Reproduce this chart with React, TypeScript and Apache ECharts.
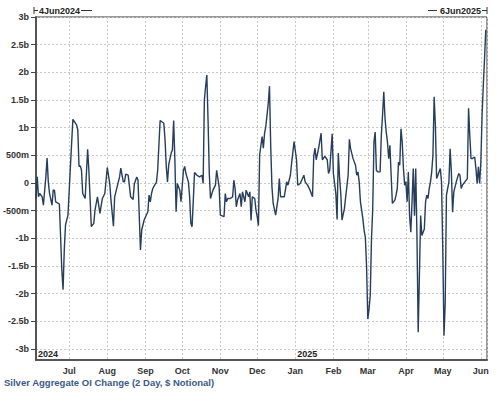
import React, { useEffect, useRef } from 'react';
import * as echarts from 'echarts';

const dates = [
  '2024-06-04','2024-06-05','2024-06-06','2024-06-07','2024-06-09','2024-06-10','2024-06-12','2024-06-13','2024-06-14','2024-06-15',
  '2024-06-17','2024-06-18','2024-06-19','2024-06-20','2024-06-23','2024-06-25','2024-06-26','2024-06-27','2024-06-28','2024-06-30',
  '2024-07-02','2024-07-04','2024-07-07','2024-07-08','2024-07-09','2024-07-10','2024-07-11','2024-07-12','2024-07-14','2024-07-16',
  '2024-07-17','2024-07-19','2024-07-21','2024-07-22','2024-07-24','2024-07-26','2024-07-28','2024-07-30','2024-08-01','2024-08-03',
  '2024-08-04','2024-08-06','2024-08-07','2024-08-09','2024-08-11','2024-08-12','2024-08-14','2024-08-15','2024-08-16','2024-08-18',
  '2024-08-20','2024-08-22','2024-08-23','2024-08-25','2024-08-26','2024-08-28','2024-08-29','2024-08-31','2024-09-03','2024-09-04',
  '2024-09-05','2024-09-06','2024-09-07','2024-09-09','2024-09-10','2024-09-11','2024-09-13','2024-09-16','2024-09-17','2024-09-18',
  '2024-09-19','2024-09-20','2024-09-22','2024-09-23','2024-09-24','2024-09-25','2024-09-26','2024-09-27','2024-09-29','2024-09-30',
  '2024-10-02','2024-10-03','2024-10-04','2024-10-06','2024-10-07','2024-10-08','2024-10-09','2024-10-10','2024-10-11','2024-10-13',
  '2024-10-15','2024-10-17','2024-10-18','2024-10-19','2024-10-20','2024-10-21','2024-10-22','2024-10-23','2024-10-24','2024-10-26',
  '2024-10-28','2024-10-29','2024-10-31','2024-11-01','2024-11-04','2024-11-05','2024-11-06','2024-11-07','2024-11-09','2024-11-11',
  '2024-11-12','2024-11-13','2024-11-14','2024-11-15','2024-11-17','2024-11-18','2024-11-19','2024-11-21','2024-11-22','2024-11-24',
  '2024-11-25','2024-11-26','2024-11-27','2024-11-29','2024-11-30','2024-12-01','2024-12-02','2024-12-03','2024-12-05','2024-12-06',
  '2024-12-07','2024-12-08','2024-12-10','2024-12-11','2024-12-12','2024-12-13','2024-12-14','2024-12-16','2024-12-18','2024-12-19',
  '2024-12-20','2024-12-22','2024-12-23','2024-12-25','2024-12-26','2024-12-28','2024-12-29','2024-12-31','2025-01-02','2025-01-03',
  '2025-01-05','2025-01-08','2025-01-09','2025-01-11','2025-01-13','2025-01-15','2025-01-16','2025-01-17','2025-01-18','2025-01-20',
  '2025-01-22','2025-01-23','2025-01-25','2025-01-27','2025-01-28','2025-01-29','2025-01-31','2025-02-01','2025-02-03','2025-02-04',
  '2025-02-05','2025-02-06','2025-02-07','2025-02-08','2025-02-10','2025-02-11','2025-02-13','2025-02-14','2025-02-15','2025-02-17',
  '2025-02-19','2025-02-20','2025-02-21','2025-02-22','2025-02-23','2025-02-25','2025-02-26','2025-02-27','2025-02-28','2025-03-01',
  '2025-03-02','2025-03-03','2025-03-04','2025-03-05','2025-03-06','2025-03-07','2025-03-08','2025-03-09','2025-03-11','2025-03-12',
  '2025-03-13','2025-03-14','2025-03-15','2025-03-16','2025-03-17','2025-03-18','2025-03-19','2025-03-20','2025-03-21','2025-03-23',
  '2025-03-24','2025-03-25','2025-03-26','2025-03-27','2025-03-28','2025-03-29','2025-03-30','2025-03-31','2025-04-01','2025-04-02',
  '2025-04-03','2025-04-04','2025-04-05','2025-04-06','2025-04-07','2025-04-08','2025-04-09','2025-04-10','2025-04-11','2025-04-12',
  '2025-04-13','2025-04-14','2025-04-15','2025-04-16','2025-04-17','2025-04-18','2025-04-19','2025-04-20','2025-04-21','2025-04-22',
  '2025-04-23','2025-04-24','2025-04-25','2025-04-26','2025-04-27','2025-04-29','2025-04-30','2025-05-01','2025-05-02','2025-05-03',
  '2025-05-04','2025-05-05','2025-05-06','2025-05-07','2025-05-08','2025-05-09','2025-05-10','2025-05-12','2025-05-14','2025-05-15',
  '2025-05-16','2025-05-17','2025-05-19','2025-05-21','2025-05-22','2025-05-23','2025-05-24','2025-05-25','2025-05-27','2025-05-28',
  '2025-05-29','2025-05-30','2025-05-31','2025-06-01','2025-06-02','2025-06-03','2025-06-04','2025-06-05',
];

// OI change, billions of dollars
const values = [
  -0.28, 0.11, -0.25, -0.19, -0.25, -0.40, 0.11, 0.45, 0.02, -0.19,
  -0.40, -0.13, -0.13, -0.34, -0.38, -1.57, -1.93, -1.21, -0.76, -0.58,
  0.30, 1.15, 1.05, 0.96, 0.30, 0.31, 0.23, -0.19, -0.28, 0.61,
  0.23, -0.79, -0.73, -0.49, -0.25, -0.55, -0.28, -0.19, 0.28, -0.01,
  -0.31, -0.78, -0.25, -0.07, 0.11, 0.27, 0.02, 0.02, 0.16, 0.14,
  -0.25, -0.30, -0.02, 0.11, 0.05, -1.21, -0.85, -0.67, -0.52, -0.22,
  -0.34, -0.19, -0.10, -0.02, 0.01, 0.23, 1.13, 1.08, 0.78, 0.30,
  0.02, 0.33, 0.54, 0.60, 1.13, 0.42, -0.52, -0.01, -0.13, -0.34,
  0.23, 0.30, 0.17, 0.02, -0.25, -0.73, -0.79, -0.31, 0.19, 0.14,
  0.11, 0.14, -0.01, 1.50, 1.74, 1.95, 1.14, 0.17, -0.28, -0.13,
  -0.04, 0.23, -0.07, -0.58, -0.61, -0.19, -0.34, -0.28, -0.28, -0.25,
  0.05, -0.10, -0.43, -0.31, -0.19, -0.43, -0.16, -0.34, -0.13, -0.25,
  -0.16, -0.68, -0.25, -0.28, -0.49, -0.61, -0.77, 0.51, 0.84, 0.63,
  0.90, 1.02, 1.44, 1.75, 0.66, -0.07, -0.37, -0.58, -0.28, 0.08,
  -0.25, -0.25, -0.25, 0.02, -0.04, 0.14, 0.36, 0.75, 0.42, -0.04,
  -0.01, 0.14, 0.02, -0.04, -0.13, -0.25, 0.48, 0.63, 0.42, 0.63,
  0.90, 0.42, 0.48, 0.42, 0.17, 0.23, 0.89, 0.17, -0.19, -0.66,
  0.54, 0.11, -0.19, -0.67, -0.46, -0.25, 0.14, 0.79, 0.62, 0.44,
  0.32, 0.14, 0.20, 0.02, -0.34, -0.65, -0.86, -0.98, -1.51, -2.46,
  -2.28, -2.03, -1.01, -0.47, 0.74, 0.92, 0.23, 0.20, 0.20, 0.86,
  1.23, 1.65, 1.17, 0.92, 0.74, 0.44, 0.68, 0.14, -0.37, -0.31,
  -0.22, -0.10, 0.38, 0.32, 0.98, 0.74, 0.26, -0.04, 0.02, -0.34,
  0.20, -0.59, -0.89, -0.34, 0.26, -0.59, 0.26, -0.95, -2.70, -1.67,
  -0.59, -0.95, -0.89, -0.83, -0.34, -0.22, -0.28, -0.10, 0.02, 0.20,
  0.50, 1.56, 1.04, 0.08, 0.14, 0.26, 0.02, -1.19, -2.76, -2.16,
  -0.22, -0.10, 0.02, 0.62, 0.20, -0.53, -0.16, 0.02, 0.17, 0.14,
  -0.10, -0.04, 0.02, 0.08, 1.35, 0.86, 0.44, 0.44, 0.47, 0.26,
  -0.01, 0.29, -0.01, 0.38, 1.23, 1.77, 2.25, 2.77,
];

const monthNames = ['Jan', 'Feb', 'Mar', 'Apr', 'May', 'Jun', 'Jul', 'Aug', 'Sep', 'Oct', 'Nov', 'Dec'];
const axisStart = '2024-06-04';
const axisEnd = '2025-06-06';
const startLabel = '4Jun2024';
const endLabel = '6Jun2025';
const yearLabels = [
  { text: '2024', date: '2024-06-04' },
  { text: '2025', date: '2025-01-01' },
];
const chartTitle = 'Silver Aggregate OI Change (2 Day, $ Notional)';

const fmtY = (v: number) => {
  if (Math.abs(v) < 1e-9) return '0';
  if (Math.abs(v) >= 1) return `${+v.toFixed(1)}b`;
  return `${Math.round(v * 1000)}m`;
};

export default function App() {
  const ref = useRef<HTMLDivElement>(null);
  useEffect(() => {
    const chart = echarts.init(ref.current!, null, { renderer: 'svg' });
    const font = 'Arial, "Liberation Sans", sans-serif';
    chart.setOption({
      animation: false,
      backgroundColor: '#ffffff',
      grid: { left: 34, right: 13, top: 17, bottom: 33, show: true, borderColor: '#333', borderWidth: 1 },
      xAxis: {
        type: 'time',
        min: axisStart,
        max: axisEnd,
        splitNumber: 12,
        axisLine: { show: true, onZero: false, lineStyle: { color: '#555', width: 2 } },
        axisTick: { show: false },
        axisLabel: {
          formatter: (v: number) => monthNames[new Date(v).getMonth()],
          color: '#333',
          fontWeight: 'bold',
          fontSize: 9,
          fontFamily: font,
          margin: 6,
          hideOverlap: false,
        },
        splitLine: { show: true, lineStyle: { color: '#c8c8c8', type: [2, 2], width: 1 } },
      },
      yAxis: {
        type: 'value',
        min: -3.2,
        max: 3,
        splitNumber: 12,
        axisLine: { show: true, onZero: false, lineStyle: { color: '#555', width: 2 } },
        axisTick: { show: true, length: 5, lineStyle: { color: '#444' } },
        axisLabel: {
          formatter: fmtY,
          showMinLabel: false,
          color: '#333',
          fontWeight: 'bold',
          fontSize: 9,
          fontFamily: font,
          margin: 7,
        },
        splitLine: { show: true, lineStyle: { color: '#c8c8c8', type: [2, 2], width: 1 } },
      },
      series: [
        {
          type: 'line',
          data: dates.map((d, i) => [d, values[i]]),
          symbol: 'none',
          lineStyle: { color: '#253d5f', width: 1.4 },
        },
      ],
    });

    const yBottom = chart.convertToPixel({ yAxisIndex: 0 }, -3.2) as number;
    const yearTexts = yearLabels.map((yl) => ({
      type: 'text',
      x: (chart.convertToPixel({ xAxisIndex: 0 }, yl.date) as number) + 2,
      y: yBottom - 6,
      style: { text: yl.text, fill: '#222', font: `bold 9px ${font}`, textVerticalAlign: 'middle' },
    }));

    chart.setOption({
      graphic: [
        ...yearTexts,
        { type: 'line', shape: { x1: 34, y1: 7, x2: 34, y2: 14 }, style: { stroke: '#333', lineWidth: 1 } },
        { type: 'line', shape: { x1: 34, y1: 10.5, x2: 38, y2: 10.5 }, style: { stroke: '#333', lineWidth: 1 } },
        { type: 'text', x: 39, y: 10.5, style: { text: startLabel, fill: '#222', font: `bold 9px ${font}`, textVerticalAlign: 'middle' } },
        { type: 'line', shape: { x1: 81, y1: 10.5, x2: 92, y2: 10.5 }, style: { stroke: '#333', lineWidth: 1 } },
        { type: 'line', shape: { x1: 428, y1: 10.5, x2: 437, y2: 10.5 }, style: { stroke: '#333', lineWidth: 1 } },
        { type: 'text', x: 481, y: 10.5, style: { text: endLabel, fill: '#222', font: `bold 9px ${font}`, textAlign: 'right', textVerticalAlign: 'middle' } },
        { type: 'line', shape: { x1: 482, y1: 10.5, x2: 487, y2: 10.5 }, style: { stroke: '#333', lineWidth: 1 } },
        { type: 'line', shape: { x1: 487, y1: 7, x2: 487, y2: 14 }, style: { stroke: '#333', lineWidth: 1 } },
        { type: 'text', x: 4, y: 382, style: { text: chartTitle, fill: '#3a5a86', font: `bold 9.5px ${font}`, textVerticalAlign: 'middle' } },
      ],
    });
    return () => chart.dispose();
  }, []);
  return <div ref={ref} style={{ position: 'absolute', left: 0, top: 0, width: 500, height: 393 }} />;
}
